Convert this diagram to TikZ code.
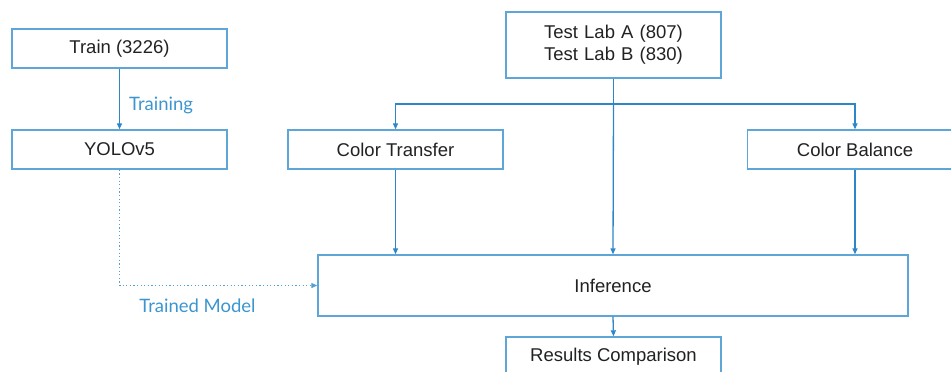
\documentclass[tikz,border=0pt]{standalone}
\usepackage{fontspec}
\setmainfont{Liberation Sans}
\newfontfamily\labelfont{Lato}
\usetikzlibrary{arrows.meta}
\definecolor{boxline}{HTML}{5FA6D8}
\definecolor{arrline}{HTML}{2C86C8}
\definecolor{labeltext}{HTML}{3B95D0}
\definecolor{bodytext}{HTML}{222222}
\begin{document}
\begin{tikzpicture}[x=1pt,y=-1pt,
  box/.style={draw=boxline, line width=1.4pt, fill=white, text=bodytext,
    minimum width=215pt, minimum height=39pt, inner sep=0pt,
    font=\fontsize{18.5}{22}\selectfont, align=center},
  arr/.style={draw=arrline, line width=1.3pt, -{Triangle[length=6pt,width=5pt]}},
  plain/.style={draw=arrline, line width=1.3pt},
  dots/.style={draw=arrline!80, line width=1.2pt, dash pattern=on 1.2pt off 2.4pt,
    -{Triangle[length=6pt,width=5pt]}},
  lbl/.style={text=labeltext, font=\labelfont\fontsize{18.5}{22}\selectfont, inner sep=0pt}]
\useasboundingbox (0,0) rectangle (951,372);
\clip (0,0) rectangle (951,372);

% left column: training branch
\node[box] (train) at (119.5,48.5) {Train (3226)};
\node[box] (yolo) at (119.5,149.5) {YOLOv5};

% top: test sets
\node[box, minimum height=66pt, text width=215pt] (test) at (613.5,45)
  {Test Lab A (807)\\[0pt]Test Lab B (830)};

% preprocessing boxes
\node[box] (ct) at (395.5,149.5) {Color Transfer};
\node[box] (cb) at (855,149.5) {Color Balance};

% inference and results
\node[box, minimum width=590pt, minimum height=61pt] (inf) at (613,285.5) {Inference};
\node[box, minimum height=40pt] (res) at (613.5,357) {Results Comparison};

% connectors
\draw[arr] (train.south) -- (yolo.north);
\node[lbl, anchor=west] (trlbl) at (129,105) {Training};
\coordinate (split) at (test.south |- 0,104);
\draw[plain] (test.south) -- (split);
\draw[arr] (split) -| (ct.north);
\draw[arr] (split) -| (cb.north);
\draw[arr] (split) -- (inf.north);
\draw[arr] (ct.south) -- (ct.south |- inf.north);
\draw[arr] (cb.south) -- (cb.south |- inf.north);
\draw[arr] (inf.south) -- (res.north);
\draw[dots] (yolo.south) |- (inf.west);
\node[lbl] (tm) at (197.5,306) {Trained Model};
\end{tikzpicture}
\end{document}
